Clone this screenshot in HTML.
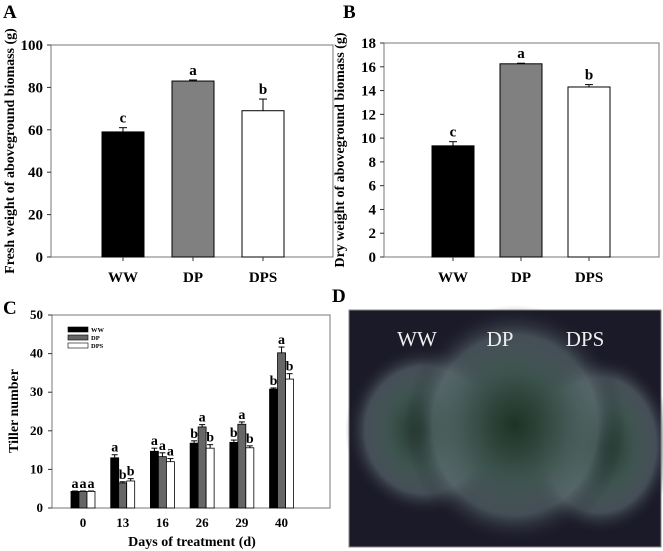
<!DOCTYPE html>
<html><head><meta charset="utf-8"><style>
html,body{margin:0;padding:0;background:#fff;}
svg{display:block;font-family:"Liberation Serif",serif;font-weight:bold;}
</style></head><body>
<svg width="663" height="551" viewBox="0 0 663 551">
<defs>
<radialGradient id="g1" cx="50%" cy="50%" r="50%"><stop offset="0" stop-color="#1c3324"/><stop offset="0.45" stop-color="#3f5650" stop-opacity="0.95"/><stop offset="0.75" stop-color="#5f7074" stop-opacity="0.6"/><stop offset="1" stop-color="#1b1a28" stop-opacity="0"/></radialGradient>
</defs>
<g id="pA"></g>
<g id="pB"></g>
<g id="pC"></g>
<g>
<text x="332" y="302" font-size="19">D</text>
<rect x="349" y="310" width="312" height="237" fill="#1b1a28" stroke="#888" stroke-width="1"/>
<ellipse cx="425" cy="430" rx="80" ry="85" fill="url(#g1)"/>
<ellipse cx="600" cy="445" rx="75" ry="90" fill="url(#g1)"/>
<ellipse cx="515" cy="425" rx="110" ry="120" fill="url(#g1)"/>
<g font-family="Liberation Serif,serif" font-weight="normal" font-size="21" fill="#eee" text-anchor="middle">
<text x="417" y="346">WW</text>
<text x="500" y="346">DP</text>
<text x="585" y="346">DPS</text>
</g>
</g>
</svg>
<script>
const NS='http://www.w3.org/2000/svg';
const groups=['WW','DP','DPS'];
const fillA=['#000','#808080','#fff'];
const freshVals=[59,83,69];
const freshErr=[2,0.5,5.5];
const freshLetters=['c','a','b'];
const freshTicks=[0,20,40,60,80,100];
const dryVals=[9.35,16.25,14.3];
const dryErr=[0.35,0.05,0.2];
const dryLetters=['c','a','b'];
const dryTicks=[0,2,4,6,8,10,12,14,16,18];
const days=['0','13','16','26','29','40'];
const tillerWW=[4.3,13,14.7,16.8,17,30.8];
const tillerDP=[4.3,6.5,13.3,21,21.7,40.2];
const tillerDPS=[4.3,7,12,15.5,15.6,33.4];
const errWW=[0.1,0.8,0.8,0.6,0.6,0.3];
const errDP=[0.1,0.3,1.0,0.6,0.6,1.5];
const errDPS=[0.1,0.6,0.8,0.9,0.5,1.4];
const letWW=['a','a','a','b','b','b'];
const letDP=['a','b','a','a','a','a'];
const letDPS=['a','b','a','b','b','b'];
const tillerTicks=[0,10,20,30,40,50];

function el(p,t,a,txt){const e=document.createElementNS(NS,t);for(const k in a)e.setAttribute(k,a[k]);if(txt!==undefined)e.textContent=txt;p.appendChild(e);return e;}

function frame(g,x0,x1,yT,yB,ticks,max,ttl,tx,label,lx){
  const y=v=>yB-(yB-yT)*v/max;
  const r=el(g,'rect',{x:x0,y:yT,width:x1-x0,height:yB-yT,fill:'none',stroke:'#777','stroke-width':1});
  
  ticks.forEach(t=>{
    el(g,'line',{x1:x0-4,x2:x0,y1:y(t),y2:y(t),stroke:'#333'});
    const tt=el(g,'text',{x:x0-8,y:y(t)+5,'font-size':15,'text-anchor':'end'},String(t));
    
  });
  const yt=el(g,'text',{x:tx,y:(yT+yB)/2,'font-size':14,'text-anchor':'middle',transform:`rotate(-90 ${tx} ${(yT+yB)/2})`},ttl);
  
  const pl=el(g,'text',{x:lx,y:18,'font-size':19},label);
  
  return y;
}
function simple(g,x0,x1,yT,yB,ticks,max,vals,errs,lets,centers,ttl,tx,label,lx){
  const y=frame(g,x0,x1,yT,yB,ticks,max,ttl,tx,label,lx);
  vals.forEach((v,i)=>{
    const c=centers[i],w=42;
    const eh=y(v+errs[i]);
    const e=el(g,'line',{x1:c,x2:c,y1:y(v),y2:eh,stroke:'#000'});
    
    el(g,'line',{x1:c-4,x2:c+4,y1:eh,y2:eh,stroke:'#000'});
    const b=el(g,'rect',{x:c-w/2,y:y(v),width:w,height:yB-y(v),fill:fillA[i],stroke:'#000'});
    
    const l=el(g,'text',{x:c,y:eh-5,'font-size':15,'text-anchor':'middle'},lets[i]);
    
    const xl=el(g,'text',{x:c,y:yB+25,'font-size':15,'text-anchor':'middle'},groups[i]);
    
    el(g,'line',{x1:c,x2:c,y1:yB,y2:yB+4,stroke:'#333'});
  });
}
simple(document.getElementById('pA'),51,333,45,257,freshTicks,100,freshVals,freshErr,freshLetters,[123,193,263],'Fresh weight of aboveground biomass (g)',14,'A',3);
simple(document.getElementById('pB'),384,659,43,257,dryTicks,18,dryVals,dryErr,dryLetters,[453,521,589],'Dry weight of aboveground biomass (g)',344,'B',343);

(function(){
  const g=document.getElementById('pC');
  const x0=52,x1=330,yT=315,yB=508;
  const y=v=>yB-(yB-yT)*v/50;
  const pl=el(g,'text',{x:3,y:314,'font-size':19},'C');
  
  const r=el(g,'rect',{x:x0,y:yT,width:x1-x0,height:yB-yT,fill:'none',stroke:'#777'});
  
  tillerTicks.forEach(t=>{
    el(g,'line',{x1:x0-4,x2:x0,y1:y(t),y2:y(t),stroke:'#333'});
    const tt=el(g,'text',{x:x0-9,y:y(t)+4,'font-size':13,'text-anchor':'end'},String(t));
    
  });
  const yt=el(g,'text',{x:18,y:411,'font-size':14,'text-anchor':'middle',transform:'rotate(-90 18 411)'},'Tiller number');
  
  const xt=el(g,'text',{x:192,y:546,'font-size':14,'text-anchor':'middle'},'Days of treatment (d)');
  
  const series=[tillerWW,tillerDP,tillerDPS],errs=[errWW,errDP,errDPS],lets=[letWW,letDP,letDPS];
  const fills=['#000','#666','#fff'];
  const bw=8,step=(x1-x0)/7;
  days.forEach((d,i)=>{
    const c=x0+step*(i+0.78);
    const xl=el(g,'text',{x:c,y:527,'font-size':13,'text-anchor':'middle'},d);
    
    series.forEach((s,k)=>{
      const bx=c-1.5*bw+k*bw,v=s[i],eh=y(v+errs[k][i]);
      el(g,'line',{x1:bx+bw/2,x2:bx+bw/2,y1:y(v),y2:eh,stroke:'#000'});
      el(g,'line',{x1:bx+1,x2:bx+bw-1,y1:eh,y2:eh,stroke:'#000'});
      const b=el(g,'rect',{x:bx,y:y(v),width:bw,height:yB-y(v),fill:fills[k],stroke:'#000','stroke-width':0.8});
      
      const l=el(g,'text',{x:bx+bw/2,y:eh-3,'font-size':14,'text-anchor':'middle'},lets[k][i]);
      
    });
  });
  groups.forEach((n,k)=>{
    const yy=327+k*8;
    const s=el(g,'rect',{x:68,y:yy,width:20,height:5,fill:fills[k],stroke:'#000','stroke-width':0.6});
    
    const t=el(g,'text',{x:91,y:yy+5,'font-size':6.5},n);
    
  });
})();
</script>
</body></html>
